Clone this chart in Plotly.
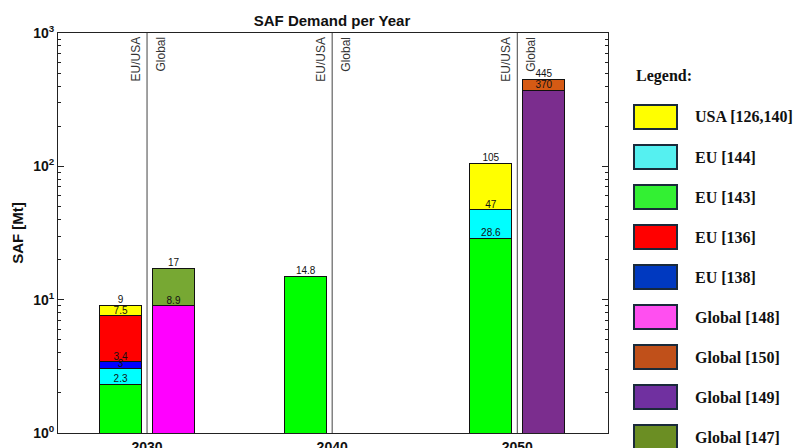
import plotly.graph_objects as go

# ---------------- data ----------------
years = [2030, 2040, 2050]
region_labels = ["EU/USA", "Global"]

# EU/USA group (stack order bottom -> top)
eu_143 = [2.3, 14.8, 28.6]
eu_144 = [0.7, None, 18.4]
eu_138 = [0.4, None, None]
eu_136 = [4.1, None, None]
usa_126_140 = [1.5, None, 58.0]

# Global group (stack order bottom -> top)
global_148 = [8.9, None, None]
global_147 = [8.1, None, None]
global_149 = [None, None, 370.0]
global_150 = [None, None, 75.0]

series_names = ["USA [126,140]", "EU [144]", "EU [143]", "EU [136]", "EU [138]",
                "Global [148]", "Global [150]", "Global [149]", "Global [147]"]
bar_colors = {
    "USA [126,140]": "#FFFF00", "EU [144]": "#00FFFF", "EU [143]": "#00FF00",
    "EU [136]": "#FF0000", "EU [138]": "#0000FF", "Global [148]": "#FF00FF",
    "Global [150]": "#D55A14", "Global [149]": "#7B2D8E", "Global [147]": "#77A833",
}
legend_colors = {
    "USA [126,140]": "#FFFF00", "EU [144]": "#55F0F0", "EU [143]": "#33F033",
    "EU [136]": "#FF0000", "EU [138]": "#0039C0", "Global [148]": "#FF4FF0",
    "Global [150]": "#C0501A", "Global [149]": "#7030A0", "Global [147]": "#6B8E23",
}

eu_stack = [("EU [143]", eu_143), ("EU [144]", eu_144), ("EU [138]", eu_138),
            ("EU [136]", eu_136), ("USA [126,140]", usa_126_140)]
gl_stack = [("Global [148]", global_148), ("Global [147]", global_147),
            ("Global [149]", global_149), ("Global [150]", global_150)]

# ---------------- layout constants ----------------
W, H = 807, 448
ML, MR, MT, MB = 58, 199, 33, 15
PW, PH = W - ML - MR, H - MT - MB
OFFSET = 1.43      # years from divider line to bar centre
BAR_W = 2.27       # bar width in years


def px_x(p):
    return (p - ML) / PW


def px_y(p):
    return (H - MB - p) / PH


fig = go.Figure()


def add_stack(stack, sign):
    xs = [y + sign * OFFSET for y in years]
    cum = [0.0] * len(years)
    lx, ly, lt = [], [], []
    for name, vals in stack:
        fig.add_trace(go.Bar(
            x=xs, y=vals, width=BAR_W, name=name,
            marker=dict(color=bar_colors[name], line=dict(color="#111111", width=1)),
            showlegend=False, hoverinfo="skip"))
        for i, v in enumerate(vals):
            if v is not None:
                cum[i] += v
                lx.append(xs[i])
                ly.append(cum[i])
                lt.append(f"{round(cum[i], 1):g}")
    fig.add_trace(go.Scatter(
        x=lx, y=ly, text=lt, mode="text", textposition="top center",
        textfont=dict(family="Arial, Liberation Sans", size=10, color="#111"),
        showlegend=False, hoverinfo="skip", cliponaxis=False))


add_stack(eu_stack, -1)
add_stack(gl_stack, +1)

shapes = []
annotations = []
for yr in years:
    shapes.append(dict(type="line", xref="x", yref="paper", x0=yr, x1=yr, y0=0, y1=1,
                       line=dict(color="#444444", width=1)))
    annotations.append(dict(x=yr, xref="x", y=1, yref="paper", text=region_labels[0],
                            textangle=-90, showarrow=False, xanchor="right", yanchor="top",
                            xshift=-3, yshift=-2,
                            font=dict(family="Arial, Liberation Sans", size=12, color="#333")))
    annotations.append(dict(x=yr, xref="x", y=1, yref="paper", text=region_labels[1],
                            textangle=-90, showarrow=False, xanchor="left", yanchor="top",
                            xshift=4, yshift=-2,
                            font=dict(family="Arial, Liberation Sans", size=12, color="#333")))

# custom legend
serif = "Liberation Serif, Times New Roman, serif"
annotations.append(dict(x=px_x(634), y=px_y(76), xref="paper", yref="paper",
                        text="<b>Legend:</b>", showarrow=False, xanchor="left", yanchor="middle",
                        font=dict(family=serif, size=16, color="#111")))
for k, name in enumerate(series_names):
    yc = 117 + 40 * k
    shapes.append(dict(type="rect", xref="paper", yref="paper",
                       x0=px_x(634), x1=px_x(677), y0=px_y(yc + 12), y1=px_y(yc - 12),
                       fillcolor=legend_colors[name], line=dict(color="#1a2a3a", width=2)))
    annotations.append(dict(x=px_x(693), y=px_y(yc), xref="paper", yref="paper",
                            text=f"<b>{name}</b>", showarrow=False, xanchor="left",
                            yanchor="middle", font=dict(family=serif, size=16, color="#111")))

minor_vals = [m * 10 ** e for e in range(3) for m in range(2, 10)]

fig.update_layout(
    width=W, height=H,
    margin=dict(l=ML, r=MR, t=MT, b=MB, autoexpand=False),
    paper_bgcolor="white", plot_bgcolor="white",
    barmode="stack", bargap=0,
    title=dict(text="<b>SAF Demand per Year</b>", xref="paper", x=px_x(332), xanchor="center",
               yref="container", y=1 - 21 / H, yanchor="middle",
               font=dict(family="Arial, Liberation Sans", size=15, color="#111")),
    shapes=shapes, annotations=annotations,
    showlegend=False,
)
fig.update_xaxes(
    range=[2025.19, 2054.9], tickvals=years, automargin=False,
    ticktext=[f"<b>{y}</b>" for y in years],
    tickfont=dict(family="Arial, Liberation Sans", size=14, color="#111"),
    ticks="", ticklabelstandoff=1, showgrid=False, zeroline=False,
    showline=True, linecolor="#222", linewidth=1, mirror=True,
)
fig.update_yaxes(
    type="log", range=[0, 3], automargin=False,
    tickvals=[1, 10, 100, 1000],
    ticktext=["<b>10<sup>0</sup></b>", "<b>10<sup>1</sup></b>",
              "<b>10<sup>2</sup></b>", "<b>10<sup>3</sup></b>"],
    tickfont=dict(family="Arial, Liberation Sans", size=14, color="#111"),
    ticks="inside", ticklen=6, tickcolor="#222",
    minor=dict(tickvals=minor_vals, ticks="inside", ticklen=3, tickcolor="#222", showgrid=False),
    showgrid=False, zeroline=False,
    showline=True, linecolor="#222", linewidth=1, mirror="allticks",
    title=dict(text="<b>SAF [Mt]</b>", standoff=5,
               font=dict(family="Arial, Liberation Sans", size=15, color="#111")),
)

fig.write_html("out.html")
